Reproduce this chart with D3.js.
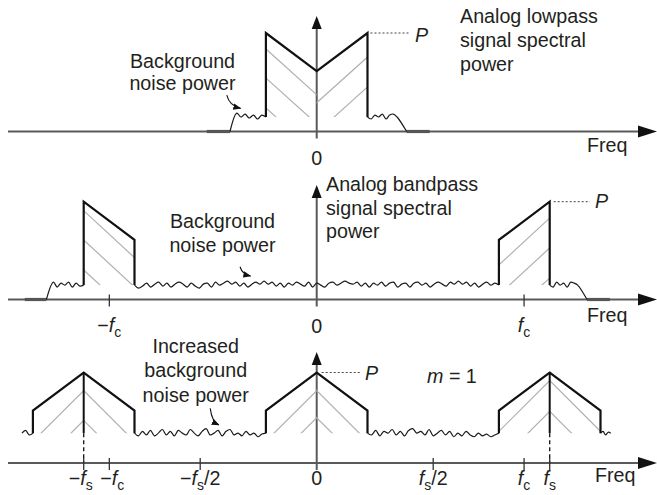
<!DOCTYPE html>
<html>
<head>
<meta charset="utf-8">
<script src="https://cdn.jsdelivr.net/npm/d3@7"></script>
<style>
  body { margin: 0; background: #fff; }
  svg { display: block; }
  text { font-family: "Liberation Sans", Arial, sans-serif; font-size: 19.7px; fill: #231f20; }
  .it { font-style: italic; }
</style>
</head>
<body>
<svg id="chart" width="657" height="495"></svg>
<script>
// frequencies in units of fs, power in units of P
const B = 0.218;          // half width of the lowpass band
const fc = 0.89;

// panel 1: analog lowpass spectrum
const lowpassFreq = [-B, -B, 0, B, B];
const lowpassPower = [0.147, 1, 0.614, 1, 0.147];
const lowpassTails = [[-0.472, -0.372], [0.386, 0.485]];
const lowpassNoiseLeft = [4, 0, 3, -1, 2, -2, 2, 0];         // -0.343 .. -B (hundredths of P above floor)
const lowpassNoiseRight = [0, -2, 2, 0, 3, -2, 2, 3, 0];     // B .. 0.345
const lowpassHatchLeft = [0.838, 0.543, 0.239];              // where "\" lines cross f = -B
const lowpassHatchRight = [0.756, 0.452, 0.15];              // where "/" lines cross f = +B

// panel 2: analog bandpass spectrum
const bandFreq = [[-1, -1, -1 + B, -1 + B], [1 - B, 1 - B, 1, 1]];
const bandPower = [[0.147, 1, 0.61, 0.147], [0.147, 0.61, 1, 0.147]];
const bandTails = [[-1.253, -1.16], [1.16, 1.258]];
const bandNoiseLeft = [3, -2, 2, 0, 3, -2, 2, -1, 0];        // -1.13 .. -1
const bandNoiseRight = [0, -2, 3, 0, 2, -2, 3, 2, 0];        // 1 .. 1.12
const bandNoiseMid = [0,-3,-1,2,-2,1,3,-1,2,-2, 1,3,1,-2,2,-1,-3,1,2,-2,
  3,0,2,4,1,3,-1,2,-2,1, 3,1,4,1,3,-1,2,-2,2,0, 3,1,-1,3,-2,2,0,-2,2,3,
  0,2,4,2,1,3,-1,2,-2,2, 0,3,-1,2,3,-2,1,2,-2,2, 3,0,2,-2,1,3,1,-1,3,1,
  4,1,3,-1,2,-2,1,3,0,2,0];                                  // -1+B .. 1-B
const bandHatchLow = [0.908, 0.608, 0.302];                  // "\" lines crossing f = -1
const bandHatchHigh = [0.833, 0.527, 0.22];                  // "/" lines crossing f = +1

// panel 3: sampled spectrum, m = 1
const replicaCentres = [-1, 0, 1];
const replicaOffsets = [-B, -B, 0, B, B];
const replicaPower = [0.33, 0.58, 1, 0.58, 0.33];
const aliasNoiseMidLeft = [0,-3,2,-2,3,-3,0,4,-2,2, -3,3,0,-2,4,0,-3,2,5,-2,
  0,3,-3,2,4,-2,0,-3,2,-2, 0,-4,-1,0];
const aliasNoiseMidRight = [0,-2,3,-3,2,0,4,-2,2,-3, 3,5,0,2,-2,4,-3,0,3,-2,
  2,-4,0,-3,2,-2,-4,0,-3,-1, -4,-2,0];
const aliasNoiseOuterLeft = [0, 3, -2, 0];
const aliasNoiseOuterRight = [0, 2, -2, 1, 0];
const aliasHatch = [[0.8, 0.47], [0.8, 0.5], [0.91, 0.57]];  // lines crossing each replica peak

const ticks2 = [
  {f: -fc, sign: '\u2212', sub: 'c', tail: ''},
  {f: fc, sign: '', sub: 'c', tail: ''}
];
const ticks3 = [
  {f: -1, sign: '\u2212', sub: 's', tail: ''},
  {f: -fc, sign: '\u2212', sub: 'c', tail: ''},
  {f: -0.5, sign: '\u2212', sub: 's', tail: '/2'},
  {f: 0.5, sign: '', sub: 's', tail: '/2'},
  {f: fc, sign: '', sub: 'c', tail: ''},
  {f: 1, sign: '', sub: 's', tail: ''}
];

const svg = d3.select('#chart');
const x = d3.scaleLinear().domain([-1, 1]).range([83.7, 549.7]);
const x0 = x(0);

const panels = [
  {axisY: 131.5, pY: 33, arrowTop: 16, labelY: 165, freqX: 587, freqY: 152},
  {axisY: 299.5, pY: 201.7, arrowTop: 185, labelY: 332, freqX: 587, freqY: 321.7},
  {axisY: 463, pY: 372.5, arrowTop: 352, labelY: 485, freqX: 595, freqY: 482}
];
panels.forEach(p => { p.y = d3.scaleLinear().domain([0, 1]).range([p.axisY, p.pY]); });

const defs = svg.append('defs');
defs.append('marker')
  .attr('id', 'head')
  .attr('viewBox', '0 0 10 10')
  .attr('refX', 9).attr('refY', 5)
  .attr('markerWidth', 8).attr('markerHeight', 8)
  .attr('markerUnits', 'userSpaceOnUse')
  .attr('orient', 'auto')
  .append('path').attr('d', 'M0,1L10,5L0,9Z').attr('fill', '#111');

let clipCount = 0;

function lineFor(y, curve){
  return d3.line().x(d => x(d[0])).y(d => y(d[1])).curve(curve || d3.curveLinear);
}

function noisePoints(from, to, dev, floor){
  const n = dev.length;
  return dev.map((v, i) => [from + (to - from) * i / (n - 1), floor + v / 100]);
}

function hatch(g, y, poly, fRef, levels, slope){
  const id = 'clip' + (clipCount++);
  defs.append('clipPath').attr('id', id)
    .append('path').attr('d', lineFor(y)(poly) + 'Z');
  const hg = g.append('g').attr('clip-path', 'url(#' + id + ')');
  levels.forEach(L => {
    const seg = [[fRef - 0.6, L - 0.6 * slope], [fRef + 0.6, L + 0.6 * slope]];
    hg.append('path')
      .attr('d', lineFor(y)(seg))
      .attr('fill', 'none')
      .attr('stroke', '#b0b0b0')
      .attr('stroke-width', 1.2);
  });
}

function drawNoise(g, y, pts){
  g.append('path')
    .attr('d', lineFor(y, d3.curveCatmullRom)(pts))
    .attr('fill', 'none')
    .attr('stroke', '#1a1a1a')
    .attr('stroke-width', 1.2)
    .attr('stroke-linejoin', 'round');
}

function drawTail(g, y, t){
  g.append('path')
    .attr('d', lineFor(y)([[t[0], 0], [t[1], 0]]))
    .attr('stroke', '#555')
    .attr('stroke-width', 3.2);
}

function drawEdge(g, y, freqs, powers, width){
  g.append('path')
    .attr('d', lineFor(y)(freqs.map((f, i) => [f, powers[i]])))
    .attr('fill', 'none')
    .attr('stroke', '#111')
    .attr('stroke-width', width || 2.2)
    .attr('stroke-linejoin', 'miter');
}

function drawAxes(p){
  const g = svg.append('g');
  g.append('line')
    .attr('x1', 8).attr('x2', 640)
    .attr('y1', p.axisY).attr('y2', p.axisY)
    .attr('stroke', '#5a5a5a').attr('stroke-width', 2);
  g.append('path')
    .attr('d', `M638,${p.axisY - 6}L657,${p.axisY}L638,${p.axisY + 6}Z`)
    .attr('fill', '#111');
  g.append('line')
    .attr('x1', x0).attr('x2', x0)
    .attr('y1', p.axisY + 7).attr('y2', p.arrowTop + 10)
    .attr('stroke', '#5a5a5a').attr('stroke-width', 2);
  g.append('path')
    .attr('d', `M${x0 - 5},${p.arrowTop + 13}L${x0},${p.arrowTop}L${x0 + 5},${p.arrowTop + 13}Z`)
    .attr('fill', '#111');
  g.append('text')
    .attr('x', x0).attr('y', p.labelY + (p === panels[1] ? 1 : 0))
    .attr('text-anchor', 'middle').text('0');
  g.append('text')
    .attr('x', p.freqX).attr('y', p.freqY).text('Freq');
}

function drawTicks(p, ticks){
  const g = svg.append('g');
  const nudge = {'-1': -3, '-0.89': 3};
  ticks.forEach(t => {
    const tx = x(t.f);
    g.append('line')
      .attr('x1', tx).attr('x2', tx)
      .attr('y1', p.axisY - 5).attr('y2', p.axisY + 7)
      .attr('stroke', '#333').attr('stroke-width', 1.3);
    const lab = g.append('text')
      .attr('x', tx + (p === panels[2] ? (nudge[String(t.f)] || 0) : 0))
      .attr('y', p.labelY)
      .attr('text-anchor', 'middle');
    if (t.sign) lab.append('tspan').text(t.sign);
    lab.append('tspan').attr('class', 'it').text('f');
    lab.append('tspan').attr('font-size', '14px').attr('dy', 5).text(t.sub);
    if (t.tail) lab.append('tspan').attr('dy', -5).text(t.tail);
  });
}

function textBlock(lines, xPos, baselines, anchor){
  const g = svg.append('g');
  lines.forEach((s, i) => {
    g.append('text')
      .attr('x', xPos).attr('y', baselines[i])
      .attr('text-anchor', anchor || 'start')
      .text(s);
  });
}

function annotationArrow(p, start, end){
  const s = [x(start[0]), p.y(start[1])];
  const e = [x(end[0]), p.y(end[1])];
  const c = [s[0] + (e[0] - s[0]) * 0.2, s[1] + (e[1] - s[1]) * 0.8];
  svg.append('path')
    .attr('d', `M${s[0]},${s[1]}Q${c[0]},${c[1]} ${e[0]},${e[1]}`)
    .attr('fill', 'none')
    .attr('stroke', '#111')
    .attr('stroke-width', 1.1)
    .attr('marker-end', 'url(#head)');
}

function pLabel(p, fromX, toX, labelX, labelY){
  svg.append('line')
    .attr('x1', fromX).attr('x2', toX)
    .attr('y1', p.y(1)).attr('y2', p.y(1))
    .attr('stroke', '#444').attr('stroke-width', 1)
    .attr('stroke-dasharray', '2,2');
  svg.append('text').attr('class', 'it')
    .attr('x', labelX).attr('y', labelY).text('P');
}

panels.forEach(drawAxes);

// ---------- panel 1 ----------
{
  const p = panels[0], y = p.y, g = svg.append('g');
  const floor = lowpassPower[0];
  hatch(g, y, [[-B, floor], [-B, 1], [0, lowpassPower[2]], [0, floor]], -B, lowpassHatchLeft, -2.13);
  hatch(g, y, [[0, floor], [0, lowpassPower[2]], [B, 1], [B, floor]], B, lowpassHatchRight, 2.13);
  lowpassTails.forEach(t => drawTail(g, y, t));
  drawNoise(g, y, [[lowpassTails[0][1], 0]].concat(noisePoints(-0.343, -B, lowpassNoiseLeft, floor)));
  drawNoise(g, y, noisePoints(B, 0.345, lowpassNoiseRight, floor).concat([[lowpassTails[1][0], 0]]));
  drawEdge(g, y, lowpassFreq, lowpassPower);
  pLabel(p, x(B) + 3, 410, 415, 41.7);
  textBlock(['Background', 'noise power'], 182.5, [67.7, 90], 'middle');
  textBlock(['Analog lowpass', 'signal spectral', 'power'], 460, [22.7, 46.7, 70.7]);
  annotationArrow(p, [-0.386, 0.37], [-0.327, 0.235]);
}

// ---------- panel 2 ----------
{
  const p = panels[1], y = p.y, g = svg.append('g');
  const floor = bandPower[0][0];
  hatch(g, y, bandFreq[0].map((f, i) => [f, bandPower[0][i]]), -1, bandHatchLow, -2.2);
  hatch(g, y, bandFreq[1].map((f, i) => [f, bandPower[1][i]]), 1, bandHatchHigh, 2.2);
  bandTails.forEach(t => drawTail(g, y, t));
  drawNoise(g, y, [[bandTails[0][1], 0]].concat(noisePoints(-1.13, -1, bandNoiseLeft, floor)));
  drawNoise(g, y, noisePoints(-1 + B, 1 - B, bandNoiseMid, floor));
  drawNoise(g, y, noisePoints(1, 1.12, bandNoiseRight, floor).concat([[bandTails[1][0], 0]]));
  bandFreq.forEach((fs, i) => drawEdge(g, y, fs, bandPower[i]));
  drawTicks(p, ticks2);
  pLabel(p, x(1) + 4, 590, 595, 208.3);
  textBlock(['Background', 'noise power'], 222.5, [228.3, 251.7], 'middle');
  textBlock(['Analog bandpass', 'signal spectral', 'power'], 326, [190.7, 215, 238.3]);
  annotationArrow(p, [-0.329, 0.335], [-0.284, 0.24]);
}

// ---------- panel 3 ----------
{
  const p = panels[2], y = p.y, g = svg.append('g');
  const floor = replicaPower[0], edge = replicaPower[1];
  replicaCentres.forEach((k, i) => {
    hatch(g, y, [[k - B, floor], [k - B, edge], [k, 1], [k, floor]], k, aliasHatch[i], 2.57);
    hatch(g, y, [[k, floor], [k, 1], [k + B, edge], [k + B, floor]], k, aliasHatch[i], -2.57);
  });
  drawNoise(g, y, noisePoints(-1.265, -1 - B, aliasNoiseOuterLeft, floor));
  drawNoise(g, y, noisePoints(-1 + B, -B, aliasNoiseMidLeft, floor));
  drawNoise(g, y, noisePoints(B, 1 - B, aliasNoiseMidRight, floor));
  drawNoise(g, y, noisePoints(1 + B, 1.262, aliasNoiseOuterRight, floor));
  [-1, 1].forEach(k => {
    drawEdge(g, y, [k, k], [1, floor], 2);
    g.append('path')
      .attr('d', lineFor(y)([[k, floor], [k, 0]]))
      .attr('stroke', '#111').attr('stroke-width', 1.3)
      .attr('stroke-dasharray', '4,3');
  });
  replicaCentres.forEach(k => {
    drawEdge(g, y, replicaOffsets.map(o => k + o), replicaPower);
  });
  drawTicks(p, ticks3);
  pLabel(p, x0 + 5, 361, 365, 380);
  textBlock(['Increased', 'background', 'noise power'], 195.7, [353.3, 377.3, 401.7], 'middle');
  const m = svg.append('text').attr('x', 427).attr('y', 383.3);
  m.append('tspan').attr('class', 'it').text('m');
  m.append('tspan').text(' = 1');
  annotationArrow(p, [-0.457, 0.604], [-0.42, 0.42]);
}
</script>
</body>
</html>
